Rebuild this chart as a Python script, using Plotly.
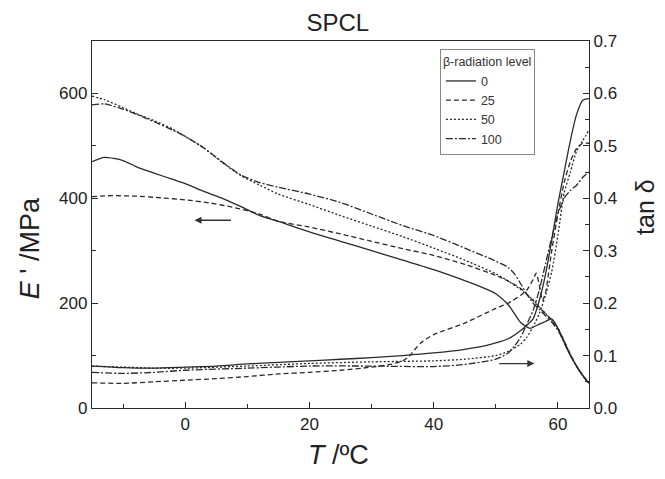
import plotly.graph_objects as go

# ---------------- data ----------------
levels = ["0", "25", "50", "100"]
dashes = ["solid", "5px,3px", "2px,2px", "7px,2px,2px,2px"]

# E' (MPa) curves
E0_T = [-15, -13, -10, -8, -5, -2, 0, 3, 6, 9, 12, 15, 20, 25, 30, 35, 40, 45, 48, 50, 52, 54, 55.5, 57, 58, 59, 60, 61, 62, 63, 64, 65]
E0_V = [470, 478, 472, 461, 448, 436, 428, 413, 400, 384, 367, 356, 336, 318, 300, 282, 264, 243, 229, 218, 197, 163, 152, 160, 165, 170, 152, 125, 100, 80, 62, 47]

E25_T = [-15, -12, -8, -4, 0, 4, 8, 12, 15, 20, 25, 30, 35, 40, 45, 50, 52, 54, 56, 57, 58, 59, 60, 61, 62, 63, 64, 65]
E25_V = [403, 405, 404, 401, 397, 391, 382, 370, 356, 345, 332, 318, 304, 291, 274, 253, 242, 228, 205, 192, 180, 168, 152, 128, 102, 80, 62, 47]

E50_T = [-15, -13, -10, -8, -5, -2, 0, 3, 6, 9, 12, 15, 20, 25, 30, 35, 40, 45, 50, 52, 54, 56, 57, 58, 59, 60, 61, 62, 63, 64, 65]
E50_V = [595, 588, 573, 562, 548, 532, 518, 496, 468, 443, 425, 408, 388, 367, 347, 327, 305, 282, 256, 242, 226, 206, 193, 180, 168, 152, 128, 102, 80, 62, 47]

E100_T = [-15, -13, -10, -8, -5, -2, 0, 3, 6, 9, 12, 15, 20, 25, 30, 35, 40, 45, 50, 52, 53, 54, 55, 56, 57, 58, 59, 60, 61, 62, 63, 64, 65]
E100_V = [578, 580, 570, 561, 546, 530, 518, 496, 469, 444, 430, 421, 408, 392, 370, 348, 329, 305, 280, 268, 256, 237, 217, 200, 188, 176, 164, 148, 125, 100, 79, 61, 46]

# tan delta curves
D0_T = [-15, -10, -5, 0, 5, 10, 15, 20, 25, 30, 35, 40, 45, 48, 50, 52, 54, 55, 56, 57, 58, 59, 60, 61, 62, 63, 64, 65]
D0_V = [0.080, 0.077, 0.076, 0.078, 0.080, 0.084, 0.087, 0.090, 0.093, 0.096, 0.100, 0.105, 0.112, 0.118, 0.124, 0.132, 0.148, 0.158, 0.170, 0.205, 0.255, 0.320, 0.390, 0.450, 0.510, 0.560, 0.587, 0.590]

D25_T = [-15, -10, -5, 0, 5, 10, 15, 20, 25, 30, 33, 35, 36, 37, 38, 40, 45, 50, 52, 54, 55, 56, 56.5, 57, 57.5, 58, 59, 60, 61, 62, 63, 64, 65]
D25_V = [0.048, 0.047, 0.050, 0.053, 0.056, 0.060, 0.065, 0.068, 0.072, 0.078, 0.083, 0.090, 0.098, 0.112, 0.125, 0.140, 0.162, 0.190, 0.200, 0.215, 0.225, 0.245, 0.257, 0.235, 0.205, 0.220, 0.300, 0.370, 0.430, 0.470, 0.495, 0.505, 0.505]

D50_T = [-15, -10, -5, 0, 10, 20, 30, 40, 45, 50, 52, 54, 55, 56, 57, 58, 59, 60, 61, 62, 63, 64, 65]
D50_V = [0.080, 0.078, 0.076, 0.076, 0.080, 0.085, 0.088, 0.090, 0.093, 0.100, 0.108, 0.122, 0.135, 0.155, 0.180, 0.215, 0.260, 0.330, 0.410, 0.450, 0.490, 0.510, 0.530]

D100_T = [-15, -10, -5, 0, 10, 20, 30, 40, 45, 50, 52, 53, 54, 55, 56, 57, 58, 59, 60, 61, 62, 63, 64, 65]
D100_V = [0.068, 0.066, 0.068, 0.072, 0.076, 0.080, 0.080, 0.079, 0.083, 0.093, 0.105, 0.118, 0.135, 0.160, 0.186, 0.225, 0.275, 0.325, 0.370, 0.400, 0.415, 0.425, 0.440, 0.450]

E_series = [(E0_T, E0_V), (E25_T, E25_V), (E50_T, E50_V), (E100_T, E100_V)]
D_series = [(D0_T, D0_V), (D25_T, D25_V), (D50_T, D50_V), (D100_T, D100_V)]

FONT = "Liberation Sans, Arial, Helvetica, sans-serif"
INK = "#2a2a2a"

fig = go.Figure()
for lvl, dash, (t, v) in zip(levels, dashes, E_series):
    fig.add_trace(go.Scatter(x=t, y=v, mode="lines", name=lvl, legendgroup=lvl,
                             line=dict(color=INK, width=1.3, dash=dash, shape="spline", smoothing=0.6)))
for lvl, dash, (t, v) in zip(levels, dashes, D_series):
    fig.add_trace(go.Scatter(x=t, y=v, mode="lines", name=lvl, legendgroup=lvl, showlegend=False,
                             yaxis="y2",
                             line=dict(color=INK, width=1.3, dash=dash, shape="spline", smoothing=0.6)))

axis_common = dict(showline=True, linecolor=INK, linewidth=1.3, showgrid=False, zeroline=False,
                   ticks="inside", ticklen=6, tickwidth=1.2, tickcolor=INK,
                   tickfont=dict(family=FONT, size=17, color="#222"))

fig.update_layout(
    width=665, height=479,
    margin=dict(l=92, r=76, t=41, b=71),
    paper_bgcolor="white", plot_bgcolor="white",
    font=dict(family=FONT, color="#222"),
    title=dict(text="SPCL", x=0.508, xanchor="center", y=0.952, yanchor="middle",
               yref="container", font=dict(family=FONT, size=24, color="#222")),
    xaxis=dict(range=[-15, 65], tick0=0, dtick=20, mirror=True,
               minor=dict(dtick=10, ticks="inside", ticklen=4, tickcolor=INK), **axis_common),
    yaxis=dict(range=[0, 700], tick0=0, dtick=200,
               minor=dict(dtick=100, ticks="inside", ticklen=4, tickcolor=INK), **axis_common),
    yaxis2=dict(range=[0, 0.7], tick0=0, dtick=0.1, tickformat=".1f", overlaying="y", side="right",
                minor=dict(dtick=0.05, ticks="inside", ticklen=4, tickcolor=INK), **axis_common),
    showlegend=True,
    legend=dict(x=0.70, y=0.978, xanchor="left", yanchor="top",
                bgcolor="white", bordercolor="#888", borderwidth=1,
                font=dict(family=FONT, size=12.5, color="#333"),
                title=dict(text="β-radiation level", font=dict(family=FONT, size=12.5, color="#333")),
                tracegroupgap=0, itemwidth=30),
)

annotations = [
    dict(text="<i>T</i> /ºC", x=0.495, y=-0.128, xref="paper", yref="paper", showarrow=False,
         xanchor="center", yanchor="middle", font=dict(family=FONT, size=27, color="#222")),
    dict(text="<i>E</i> ' /MPa", x=-0.125, y=0.435, xref="paper", yref="paper", showarrow=False,
         textangle=-90, xanchor="center", yanchor="middle", font=dict(family=FONT, size=27, color="#222")),
    dict(text="tan δ", x=1.114, y=0.547, xref="paper", yref="paper", showarrow=False,
         textangle=-90, xanchor="center", yanchor="middle", font=dict(family=FONT, size=25, color="#222")),
    dict(x=1.5, y=358, ax=7.6, ay=358, xref="x", yref="y", axref="x", ayref="y", text="",
         showarrow=True, arrowhead=2, arrowsize=1, arrowwidth=1.4, arrowcolor="#333"),
    dict(x=56.2, y=84.7, ax=50.3, ay=84.7, xref="x", yref="y", axref="x", ayref="y", text="",
         showarrow=True, arrowhead=2, arrowsize=1, arrowwidth=1.4, arrowcolor="#333"),
]
fig.update_layout(annotations=annotations)

fig.write_html("out.html")
